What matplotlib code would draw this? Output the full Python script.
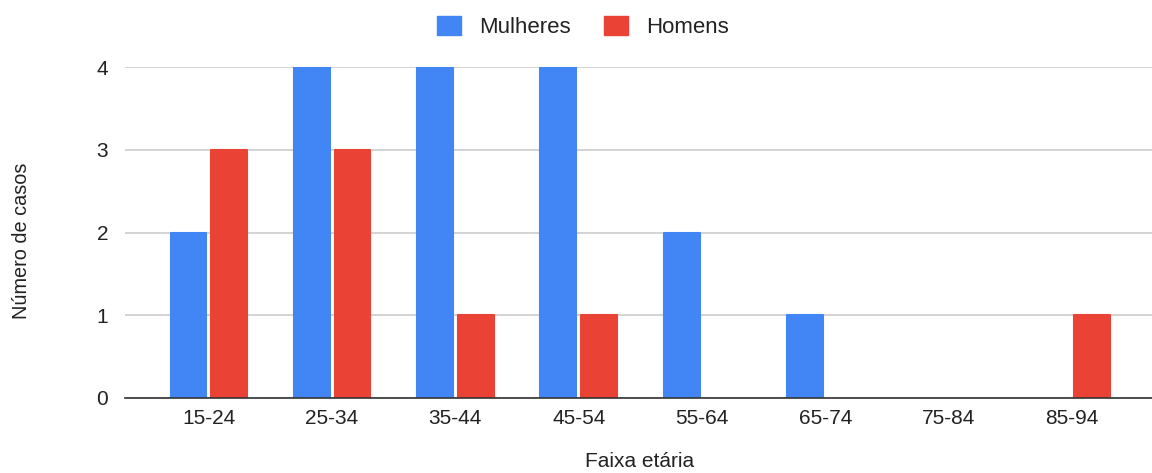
import matplotlib
matplotlib.use("Agg")
import matplotlib.pyplot as plt
import numpy as np
from matplotlib.patches import Patch

categories = ["15-24", "25-34", "35-44", "45-54", "55-64", "65-74", "75-84", "85-94"]
mulheres = [2, 4, 4, 4, 2, 1, 0, 0]
homens = [3, 3, 1, 1, 0, 0, 0, 1]
series_names = ["Mulheres", "Homens"]
colors = ["#4285F4", "#EA4335"]

plt.rcParams['font.family'] = ['Liberation Sans', 'DejaVu Sans']
text_color = "#222222"
fs = 15

fig = plt.figure(figsize=(11.52, 4.73), dpi=100)
ax = fig.add_axes([0.1085, 0.1586, 0.8915, 0.6997])

x = np.arange(len(categories))
w = 0.29
off = 0.165
for vals, dx, c in [(mulheres, -off, colors[0]), (homens, off, colors[1])]:
    bars = ax.bar(x + dx, vals, width=w, color=c, edgecolor=c, linewidth=1.5, zorder=3)
    for b, v in zip(bars, vals):
        b.set_joinstyle('round')
        if v == 0:
            b.set_linewidth(0)

ax.set_xlim(-0.68, 7.65)
ax.set_ylim(0, 4)
ax.set_yticks([0, 1, 2, 3, 4])
ax.set_xticks(x)
ax.set_xticklabels(categories)
ax.grid(axis='y', color="#cccccc", linewidth=1.2, zorder=0)
ax.set_axisbelow(True)
for s in ["top", "right", "left"]:
    ax.spines[s].set_visible(False)
ax.spines["bottom"].set_color("#333333")
ax.spines["bottom"].set_linewidth(1.2)
ax.spines["bottom"].set_zorder(4)
ax.tick_params(axis='both', length=0, labelsize=fs, colors=text_color)
ax.tick_params(axis='x', pad=8)
ax.tick_params(axis='y', pad=12)

fig.text(0.5555, 0.004, "Faixa etária", ha='center', va='bottom', fontsize=fs, color=text_color)
fig.text(0.019, 0.49, "Número de casos", ha='center', va='center', rotation=90, fontsize=14.3, color=text_color)

handles = [Patch(facecolor=colors[0], edgecolor=colors[0]), Patch(facecolor=colors[1], edgecolor=colors[1])]
fig.legend(handles, series_names, loc='center', bbox_to_anchor=(0.506, 0.943), ncol=2, frameon=False,
           fontsize=16, handlelength=1.1, handleheight=0.95, handletextpad=0.8, columnspacing=1.5,
           labelcolor=text_color)

fig.savefig("out.png", dpi=100, facecolor="white")
